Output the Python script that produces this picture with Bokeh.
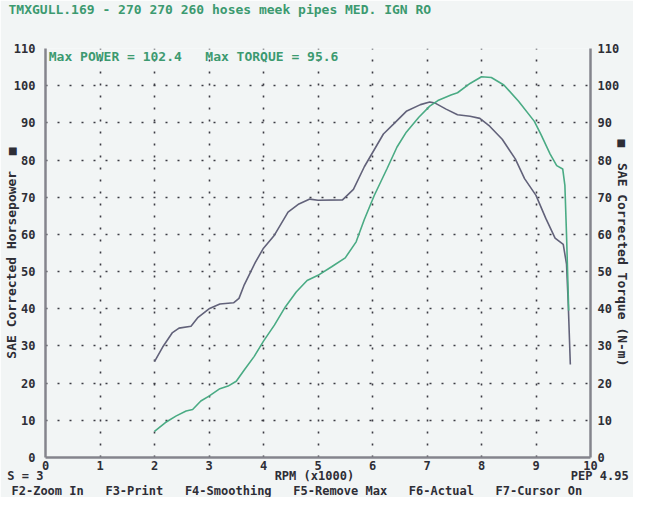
from bokeh.plotting import figure
from bokeh.models import Range1d, LinearAxis, FixedTicker, Label, Title
from bokeh.embed import file_html
from bokeh.resources import INLINE

# ---- data read from the dyno sheet ----
power_rpm = [2.0, 2.2, 2.4, 2.58, 2.7, 2.85, 3.0, 3.2, 3.35, 3.5, 3.65, 3.83, 4.0, 4.2, 4.4,
             4.6, 4.8, 5.0, 5.25, 5.5, 5.7, 5.85, 6.03, 6.27, 6.45, 6.62, 6.85, 7.05, 7.2,
             7.44, 7.56, 7.79, 8.0, 8.18, 8.41, 8.68, 8.97, 9.09, 9.26, 9.38, 9.49, 9.53,
             9.56, 9.6]
power_hp = [7.0, 9.4, 11.2, 12.5, 12.9, 15.2, 16.5, 18.5, 19.2, 20.5, 23.6, 27.2, 31.3, 35.6,
            40.5, 44.5, 47.6, 49.0, 51.3, 53.7, 58.0, 64.0, 70.4, 77.8, 83.5, 87.5, 91.5,
            94.5, 96.0, 97.5, 98.1, 100.6, 102.4, 102.2, 100.2, 95.8, 90.4, 86.9, 81.6,
            78.5, 77.6, 73.2, 60.0, 39.5]

torque_rpm = [2.0, 2.15, 2.33, 2.45, 2.67, 2.8, 3.0, 3.2, 3.45, 3.55, 3.64, 3.76, 3.85, 4.0,
              4.2, 4.45, 4.65, 4.85, 5.0, 5.45, 5.65, 5.85, 6.2, 6.38, 6.62, 6.88, 7.05,
              7.15, 7.35, 7.56, 7.79, 7.97, 8.15, 8.38, 8.62, 8.79, 9.0, 9.18, 9.35, 9.5,
              9.56, 9.59, 9.63]
torque_nm = [25.8, 29.7, 33.6, 34.8, 35.3, 37.7, 40.0, 41.3, 41.6, 42.8, 46.2, 49.8, 52.5,
             56.3, 59.8, 66.0, 68.2, 69.5, 69.2, 69.3, 72.1, 78.2, 87.0, 89.6, 93.1, 94.9,
             95.6, 95.3, 93.7, 92.2, 91.8, 91.2, 89.1, 85.6, 80.3, 75.0, 70.5, 64.3, 59.0,
             57.3, 52.0, 42.0, 25.0]

x_ticks = list(range(0, 11))
y_ticks = list(range(0, 111, 10))

title_text = "TMXGULL.169 - 270 270 260 hoses meek pipes MED. IGN RO"
max_power_text = "Max POWER = 102.4"
max_torque_text = "Max TORQUE = 95.6"
left_title = "SAE Corrected Horsepower"
right_title = "SAE Corrected Torque (N-m)"
x_title = "RPM (x1000)"
smooth_text = "S = 3"
version_text = "PEP 4.95"
keys = ["F2-Zoom In", "F3-Print", "F4-Smoothing", "F5-Remove Max", "F6-Actual", "F7-Cursor On"]

NB = "\u00a0"
SQ = "\u25a0"

def nb(s):
    return s.replace(" ", NB)

# ---- styling ----
GREEN = "#4aab84"
GREEN_TXT = "#3c9a70"
GREY = "#62627a"
AXIS = "#84848c"
TXT = "#2e2e36"
BG = "#f2f5f5"
MONO = "DejaVu Sans Mono"

p = figure(width=633, height=497, output_backend="svg", toolbar_location=None,
           x_range=Range1d(0, 10), y_range=Range1d(0, 110),
           min_border_left=38, min_border_right=36, min_border_top=48, min_border_bottom=30)
p.extra_y_ranges = {"torque": Range1d(0, 110)}
p.background_fill_color = BG
p.border_fill_color = BG
p.outline_line_color = None

# title at the very top left (two blank lines below it keep it away from the frame)
p.title.text = nb(title_text) + "\n" + NB + "\n" + NB
p.title.align = "left"
p.title.vertical_align = "top"
p.title.offset = -37
p.title.standoff = 0
p.title.text_font = MONO
p.title.text_font_style = "bold"
p.title.text_font_size = "13px"
p.title.text_color = GREEN_TXT

# grid: dotted
p.xgrid.ticker = FixedTicker(ticks=x_ticks[1:10])
p.ygrid.ticker = FixedTicker(ticks=y_ticks[1:])
for g in (p.xgrid, p.ygrid):
    g.grid_line_color = "#3c3c44"
    g.grid_line_dash = "2 10"
    g.grid_line_width = 1.6

def style_axis(ax):
    ax.axis_line_color = AXIS
    ax.axis_line_width = 2.5
    ax.major_tick_line_color = None
    ax.minor_tick_line_color = None
    ax.major_label_text_font = MONO
    ax.major_label_text_font_style = "bold"
    ax.major_label_text_font_size = "12px"
    ax.major_label_text_color = TXT
    ax.axis_label_text_font = MONO
    ax.axis_label_text_font_style = "bold"
    ax.axis_label_text_color = TXT

p.xaxis.ticker = FixedTicker(ticks=x_ticks)
p.yaxis.ticker = FixedTicker(ticks=y_ticks)
xax = p.xaxis[0]
yax = p.yaxis[0]
style_axis(xax)
style_axis(yax)
xax.major_label_standoff = -3
yax.major_label_standoff = 4

yax.axis_label = nb(left_title) + NB * 2 + SQ
yax.axis_label_text_font_size = "13px"
yax.axis_label_standoff = -8

# bottom: status line as the x axis label, function keys as a title below it
line1 = nb(smooth_text) + NB * 32 + nb(x_title) + NB * 30 + nb(version_text)
xax.axis_label = line1
xax.axis_label_text_font_size = "12px"
xax.axis_label_standoff = -4

line2 = (NB * 3).join(nb(k) for k in keys)
p.add_layout(Title(text=line2, align="left", vertical_align="top", offset=-34, standoff=-4,
                   text_font=MONO, text_font_style="bold", text_font_size="12px",
                   text_color=TXT), "below")

# right axis (torque scale) with its title
raxis = LinearAxis(y_range_name="torque", ticker=FixedTicker(ticks=y_ticks))
style_axis(raxis)
raxis.major_label_standoff = 1
raxis.axis_label = SQ + NB * 2 + nb(right_title)
raxis.axis_label_text_font_size = "13px"
raxis.axis_label_standoff = -7
p.add_layout(raxis, "right")

# curves
p.line(torque_rpm, torque_nm, color=GREY, line_width=1.6, y_range_name="torque")
p.line(power_rpm, power_hp, color=GREEN, line_width=1.6)

# max readout inside the plot area
p.add_layout(Label(x=0.06, y=107.8, text=nb(max_power_text) + NB * 3 + nb(max_torque_text),
                   text_font=MONO, text_font_style="bold", text_font_size="13px",
                   text_color=GREEN_TXT, text_align="left", text_baseline="middle"))

open("out.html", "w").write(file_html(p, INLINE))
